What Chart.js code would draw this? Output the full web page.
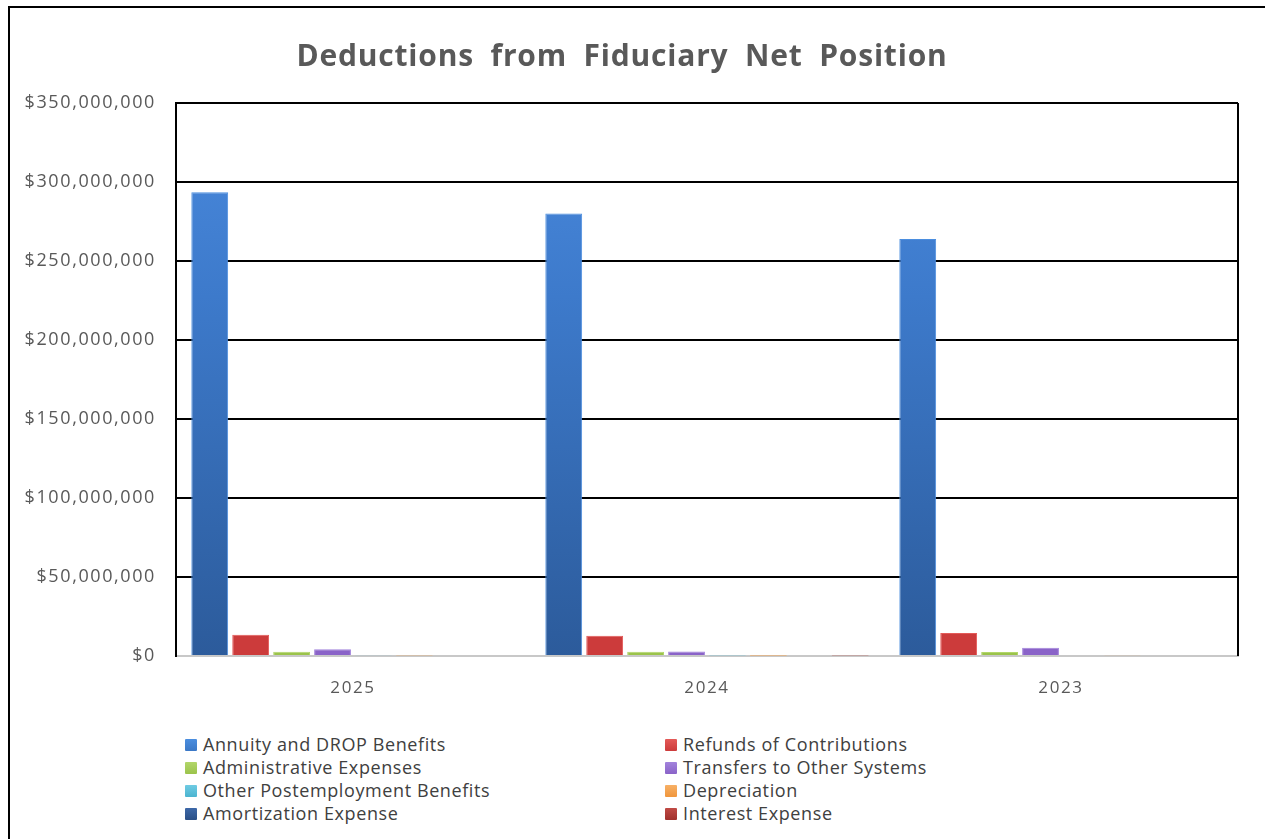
<!DOCTYPE html>
<html>
<head>
<meta charset="utf-8">
<script src="https://cdn.jsdelivr.net/npm/chart.js@4"></script>
<style>
  html, body { margin: 0; padding: 0; background: #fff; overflow: hidden; }
  body { width: 1265px; height: 839px; position: relative; }
  #frame { position: absolute; left: 8px; top: 6px; width: 1300px; height: 900px; border: 2px solid #000; box-sizing: border-box; pointer-events: none; }
  #chartBox { position: absolute; left: 0; top: 0; }
  #title { position: absolute; left: 0; top: 36px; width: 1244px; text-align: center; font-family: "Open Sans", sans-serif; font-weight: bold; font-size: 30px; line-height: 38px; color: #595959; letter-spacing: 0.8px; word-spacing: 8px; }
  #legend { position: absolute; left: 185px; top: 733px; display: grid; grid-template-columns: 480px 400px; row-gap: 0; font-family: "Open Sans", sans-serif; font-size: 18px; letter-spacing: 0.6px; color: #404040; }
  .item { height: 23px; line-height: 23px; display: flex; align-items: center; white-space: nowrap; }
  .box { width: 12px; height: 12px; margin-right: 6px; border-radius: 1px; }
</style>
</head>
<body>
<div id="chartBox"><canvas id="deductionsChart" width="1265" height="705"></canvas></div>
<div id="title">Deductions from Fiduciary Net Position</div>
<div id="legend"></div>
<div id="frame"></div>
<script>
// Años (categorías del eje X)
const years = ['2025', '2024', '2023'];

// Series (valores en dólares)
const seriesNames = [
  'Annuity and DROP Benefits',
  'Refunds of Contributions',
  'Administrative Expenses',
  'Transfers to Other Systems',
  'Other Postemployment Benefits',
  'Depreciation',
  'Amortization Expense',
  'Interest Expense'
];
const annuityDrop = [293500000, 280000000, 264000000];
const refunds = [13500000, 12800000, 14600000];
const adminExpenses = [2700000, 2700000, 2500000];
const transfers = [4200000, 2800000, 5300000];
const opeb = [400000, 300000, 0];
const depreciation = [300000, 200000, 400000];
const amortization = [0, 0, 0];
const interest = [0, 300000, 0];

// Marcas del eje Y
const yTicks = [0, 50000000, 100000000, 150000000, 200000000, 250000000, 300000000, 350000000];

const seriesValues = [annuityDrop, refunds, adminExpenses, transfers, opeb, depreciation, amortization, interest];
const colors = ['#3b78c6', '#cc3b3b', '#9bc34b', '#8a63c8', '#4bb4d0', '#f0963c', '#2a4f86', '#a0302c'];
const lightColors = ['#4b8edf', '#e45a58', '#b2d66a', '#a283dc', '#6fcbe3', '#f7b066', '#3d68a8', '#c04a45'];

// Degradado vertical para la serie principal
function blueFill(context) {
  const chart = context.chart;
  const area = chart.chartArea;
  if (!area) return colors[0];
  const g = chart.ctx.createLinearGradient(0, area.top, 0, area.bottom);
  g.addColorStop(0, '#4a8ade');
  g.addColorStop(0.35, '#3d7acb');
  g.addColorStop(1, '#2c5b9b');
  return g;
}

const datasets = seriesNames.map((name, i) => ({
  label: name,
  data: seriesValues[i],
  backgroundColor: i === 0 ? blueFill : colors[i],
  borderColor: lightColors[i],
  borderWidth: 1,
  categoryPercentage: 0.925,
  barPercentage: 0.9
}));

// Espaciado de letras en el texto del canvas y borde derecho del área
const frameExtras = {
  id: 'frameExtras',
  beforeDraw(chart) {
    chart.ctx.letterSpacing = '1.6px';
  },
  afterDraw(chart) {
    const { ctx, chartArea } = chart;
    ctx.save();
    ctx.strokeStyle = '#000';
    ctx.lineWidth = 2;
    ctx.beginPath();
    ctx.moveTo(chartArea.right, chartArea.top);
    ctx.lineTo(chartArea.right, chartArea.bottom);
    ctx.stroke();
    ctx.restore();
  }
};

const ctx = document.getElementById('deductionsChart').getContext('2d');
const deductionsChart = new Chart(ctx, {
  type: 'bar',
  data: { labels: years, datasets: datasets },
  plugins: [frameExtras],
  options: {
    responsive: false,
    animation: false,
    layout: { padding: { left: 0, right: 27, top: 103, bottom: 0 } },
    plugins: {
      legend: { display: false },
      tooltip: { enabled: false },
      title: { display: false }
    },
    scales: {
      x: {
        grid: { display: false },
        border: { color: '#c8c8c8', width: 2 },
        ticks: { color: '#595959', font: { family: '"Open Sans", sans-serif', size: 17 }, padding: 14 },
        afterFit(s) { s.height = 49; }
      },
      y: {
        min: 0,
        max: 350000000,
        afterBuildTicks(s) { s.ticks = yTicks.map(v => ({ value: v })); },
        grid: {
          color: c => (c.tick && c.tick.value === 0) ? 'rgba(0,0,0,0)' : '#000',
          lineWidth: 2,
          drawTicks: false
        },
        border: { color: '#000', width: 2 },
        ticks: {
          color: '#595959',
          font: { family: '"Open Sans", sans-serif', size: 18 },
          padding: 20,
          callback: v => '$' + Number(v).toLocaleString('en-US')
        },
        afterFit(s) { s.width = 176; }
      }
    }
  }
});

// Leyenda en dos columnas
const legend = document.getElementById('legend');
seriesNames.forEach((name, i) => {
  const item = document.createElement('div');
  item.className = 'item';
  const box = document.createElement('span');
  box.className = 'box';
  box.style.background = 'linear-gradient(' + lightColors[i] + ', ' + colors[i] + ')';
  item.appendChild(box);
  item.appendChild(document.createTextNode(name));
  legend.appendChild(item);
});
</script>
</body>
</html>
